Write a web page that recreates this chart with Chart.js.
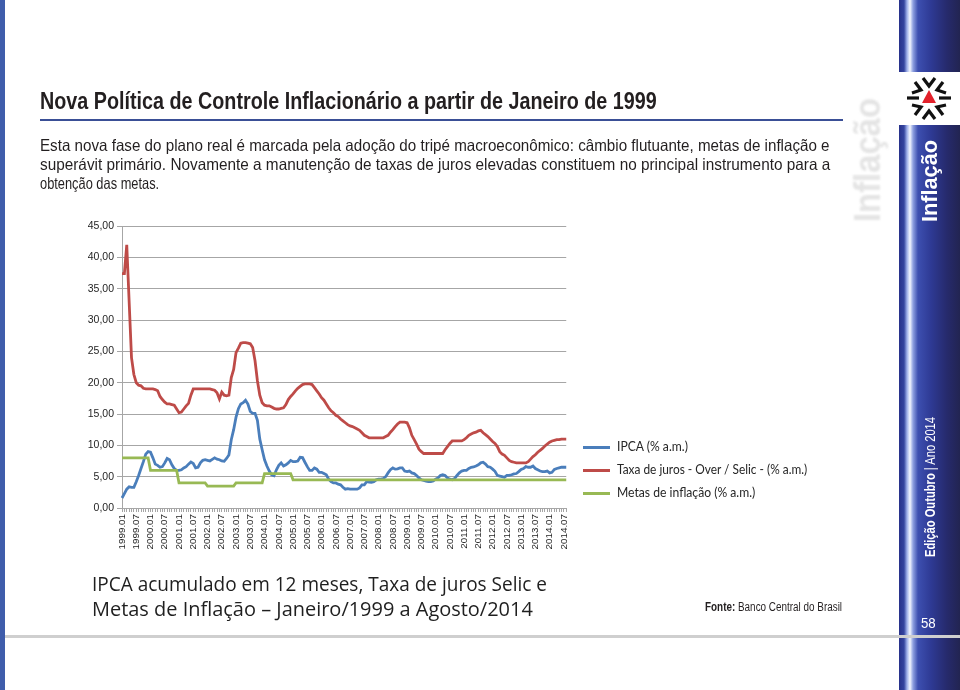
<!DOCTYPE html>
<html>
<head>
<meta charset="utf-8">
<script src="https://cdn.jsdelivr.net/npm/chart.js@4.4.1/dist/chart.umd.min.js"></script>
<style>
  html,body{margin:0;padding:0;background:#fff;}
  #page{position:relative;width:960px;height:690px;overflow:hidden;background:#fff;font-family:"Liberation Sans",Arial,sans-serif;}
  .abs{position:absolute;white-space:nowrap;}
  .fit{display:inline-block;white-space:nowrap;transform-origin:0 50%;}
  #leftbar{left:0;top:0;width:5px;height:690px;background:#3f5dab;}
  #title{left:40px;top:89px;font-size:24px;line-height:24px;font-weight:bold;color:#231f20;}
  #rule{left:40px;top:119px;width:803px;height:2px;background:#3a4f96;}
  .para{left:40px;font-size:16.5px;line-height:16px;color:#231f20;}
  #sidebar{left:899px;top:0;width:61px;height:690px;
    background:linear-gradient(to right,#27318a 0px,#34449f 5px,#9fb0ea 8px,#f4f7ff 11px,#8ea0e0 14px,#3d4fb0 19px,#2e3a94 32px,#262a6c 48px,#222451 61px);}
  #logobox{left:899px;top:72px;width:61px;height:53px;background:#fff;}
  #graybar{left:5px;top:635px;width:955px;height:3px;background:#cfcfcf;}
  .legline{position:absolute;width:27px;height:3px;}
  .legtxt{position:absolute;font-family:Lato,"Open Sans",sans-serif;font-size:12.5px;line-height:14px;color:#262626;}
  .cap{left:92px;font-family:"Open Sans",Lato,sans-serif;font-size:20px;line-height:20px;color:#1f1f1f;}
</style>
</head>
<body>
<div id="page">
  <div class="abs" id="leftbar"></div>
  <div class="abs" id="sidebar"></div>
  <div class="abs" id="graybar"></div>
  <div class="abs" id="logobox">
    <svg width="61" height="53" viewBox="0 0 61 53">
      <g stroke="#111" stroke-width="3.2" fill="none" stroke-linecap="butt">
        <polyline points="24,6 30,14 36,6"/>
        <polyline points="44,10 38,18 47,21"/>
        <polyline points="47,33 38,35 44,43"/>
        <polyline points="36,47 30,39 24,47"/>
        <polyline points="16,43 22,35 13,33"/>
        <polyline points="13,21 22,18 16,10"/>
        <line x1="8" y1="26" x2="20" y2="26"/>
        <line x1="40" y1="26" x2="52" y2="26"/>
      </g>
      <polygon points="30,18 37,31 23,31" fill="#e2202a"/>
    </svg>
  </div>
  <div class="abs" id="title"><span class="fit" id="titleT">Nova Política de Controle Inflacionário a partir de Janeiro de 1999</span></div>
  <div class="abs" id="rule"></div>
  <div class="abs para" style="top:137px"><span class="fit" id="p1">Esta nova fase do plano real é marcada pela adoção do tripé macroeconômico: câmbio flutuante, metas de inflação e</span></div>
  <div class="abs para" style="top:156px"><span class="fit" id="p2">superávit primário. Novamente a manutenção de taxas de juros elevadas constituem no principal instrumento para a</span></div>
  <div class="abs para" style="top:175px"><span class="fit" id="p3">obtenção das metas.</span></div>

  <div class="abs" style="left:868px;top:160px;width:0;height:0;">
    <div style="position:absolute;left:0;top:0;transform:translate(-50%,-50%) rotate(-90deg);font-size:36px;line-height:36px;font-weight:bold;color:#e4e4e4;filter:blur(1.3px);white-space:nowrap;"><span class="fit" id="wm" style="transform-origin:50% 50%">Inflação</span></div>
  </div>
  <div class="abs" style="left:930px;top:181px;width:0;height:0;">
    <div style="position:absolute;left:0;top:0;transform:translate(-50%,-50%) rotate(-90deg);font-size:22px;line-height:22px;font-weight:bold;color:#fff;white-space:nowrap;"><span class="fit" id="sideT" style="transform-origin:50% 50%">Inflação</span></div>
  </div>
  <div class="abs" style="left:929px;top:487px;width:0;height:0;">
    <div style="position:absolute;left:0;top:0;transform:translate(-50%,-50%) rotate(-90deg);font-size:15px;line-height:15px;color:#fff;white-space:nowrap;"><span class="fit" id="edT" style="transform-origin:50% 50%"><b>Edição Outubro</b> | Ano 2014</span></div>
  </div>
  <div class="abs" style="left:921px;top:615px;font-size:15px;line-height:15px;color:#fff;"><span class="fit" id="pg">58</span></div>

  <canvas id="chart" width="500" height="344" class="abs" style="left:80px;top:216px;"></canvas>

  <div class="legline" style="left:583px;top:446px;background:#4a7ebb;"></div>
  <div class="legtxt" style="left:617px;top:440px;"><span class="fit" id="l1">IPCA (% a.m.)</span></div>
  <div class="legline" style="left:583px;top:469px;background:#be4b48;"></div>
  <div class="legtxt" style="left:617px;top:463px;"><span class="fit" id="l2">Taxa de juros - Over / Selic - (% a.m.)</span></div>
  <div class="legline" style="left:583px;top:492px;background:#98b954;"></div>
  <div class="legtxt" style="left:617px;top:486px;"><span class="fit" id="l3">Metas de inflação (% a.m.)</span></div>

  <div class="abs cap" style="top:574px;"><span class="fit" id="c1">IPCA acumulado em 12 meses, Taxa de juros Selic e</span></div>
  <div class="abs cap" style="top:599px;"><span class="fit" id="c2">Metas de Inflação – Janeiro/1999 a Agosto/2014</span></div>
  <div class="abs" style="left:705px;top:600px;font-size:12px;line-height:14px;color:#231f20;"><span class="fit" id="fonte"><b>Fonte:</b> Banco Central do Brasil</span></div>
</div>

<script>
// ---- data (monthly, Jan/1999 .. Aug/2014) ----
const years = ["1999","2000","2001","2002","2003","2004","2005","2006","2007","2008","2009","2010","2011","2012","2013","2014"];
const months = ["01","02","03","04","05","06","07","08","09","10","11","12"];
const lastMonthCount = 8; // 2014 ends in August

const ipca = [
  1.6, 2.3, 3.0, 3.4, 3.3, 3.3, 4.2, 5.2, 6.3, 7.4, 8.6, 9.0,
  8.9, 8.0, 7.0, 6.8, 6.5, 6.6, 7.2, 7.9, 7.7, 6.9, 6.3, 6.0,
  6.0, 6.1, 6.4, 6.6, 7.0, 7.35, 7.1, 6.4, 6.5, 7.2, 7.6, 7.7,
  7.6, 7.5, 7.75, 8.0, 7.8, 7.7, 7.5, 7.45, 7.9, 8.45, 10.9, 12.5,
  14.5, 15.85, 16.6, 16.8, 17.2, 16.6, 15.4, 15.1, 15.1, 14.0, 11.0, 9.3,
  7.7, 6.7, 5.9, 5.3, 5.15, 6.1, 6.8, 7.2, 6.7, 6.9, 7.2, 7.6,
  7.4, 7.4, 7.5, 8.1, 8.05, 7.3, 6.6, 6.0, 6.0, 6.4, 6.2, 5.7,
  5.7, 5.5, 5.3, 4.6, 4.2, 4.0, 4.0, 3.8, 3.7, 3.3, 3.0, 3.1,
  3.0, 3.0, 3.0, 3.0, 3.2, 3.7, 3.7, 4.2, 4.15, 4.1, 4.2, 4.5,
  4.6, 4.6, 4.7, 5.0, 5.6, 6.1, 6.4, 6.2, 6.25, 6.4, 6.4, 5.9,
  5.8, 5.9, 5.6, 5.5, 5.2, 4.8, 4.5, 4.4, 4.3, 4.2, 4.2, 4.3,
  4.6, 4.8, 5.2, 5.3, 5.2, 4.8, 4.6, 4.5, 4.7, 5.2, 5.6, 5.9,
  6.0, 6.0, 6.3, 6.5, 6.55, 6.7, 6.9, 7.2, 7.3, 7.0, 6.6, 6.5,
  6.2, 5.85, 5.2, 5.1, 5.0, 4.9, 5.2, 5.2, 5.3, 5.45, 5.5, 5.8,
  6.15, 6.3, 6.6, 6.5, 6.5, 6.7, 6.3, 6.1, 5.9, 5.8, 5.8, 5.9,
  5.6, 5.7, 6.15, 6.3, 6.4, 6.5, 6.5, 6.5
];
const selic = [
  37.4, 37.4, 42.0, 33.0, 24.0, 21.3, 20.0, 19.6, 19.5, 19.1, 19.0, 19.0,
  19.0, 19.0, 18.9, 18.7, 17.8, 17.3, 16.9, 16.6, 16.6, 16.5, 16.4, 15.8,
  15.2, 15.3, 15.8, 16.3, 16.7, 18.0, 19.0, 19.0, 19.0, 19.0, 19.0, 19.0,
  19.0, 19.0, 18.9, 18.8, 18.4, 17.4, 18.5, 18.0, 17.9, 18.0, 20.8, 22.1,
  24.8, 25.5, 26.3, 26.4, 26.4, 26.3, 26.2, 25.6, 23.5, 20.3, 18.0, 16.8,
  16.4, 16.3, 16.3, 16.1, 15.9, 15.8, 15.8, 15.9, 16.0, 16.5, 17.3, 17.8,
  18.2, 18.7, 19.1, 19.4, 19.7, 19.8, 19.8, 19.8, 19.7, 19.2, 18.7, 18.2,
  17.6, 17.2, 16.6, 16.0, 15.5, 15.2, 14.8, 14.6, 14.2, 13.9, 13.6, 13.3,
  13.1, 13.0, 12.8, 12.6, 12.4, 12.0, 11.6, 11.4, 11.2, 11.2, 11.2, 11.2,
  11.2, 11.2, 11.2, 11.4, 11.6, 12.1, 12.5, 13.0, 13.4, 13.7, 13.7, 13.7,
  13.6, 12.8, 11.6, 10.9, 10.2, 9.4, 9.0, 8.7, 8.7, 8.7, 8.7, 8.7,
  8.7, 8.7, 8.7, 8.7, 9.3, 9.8, 10.3, 10.7, 10.7, 10.7, 10.7, 10.7,
  10.9, 11.2, 11.6, 11.8, 12.0, 12.1, 12.3, 12.4, 12.0, 11.7, 11.4, 11.0,
  10.6, 10.3, 9.8, 9.0, 8.6, 8.4, 8.0, 7.6, 7.4, 7.3, 7.2, 7.2,
  7.2, 7.2, 7.2, 7.4, 7.8, 8.2, 8.5, 8.9, 9.2, 9.5, 9.9, 10.2,
  10.5, 10.7, 10.8, 10.9, 10.9, 11.0, 11.0, 11.0
];
const metas = [
  8, 8, 8, 8, 8, 8, 8, 8, 8, 8, 8, 8,
  6, 6, 6, 6, 6, 6, 6, 6, 6, 6, 6, 6,
  4, 4, 4, 4, 4, 4, 4, 4, 4, 4, 4, 4,
  3.5, 3.5, 3.5, 3.5, 3.5, 3.5, 3.5, 3.5, 3.5, 3.5, 3.5, 3.5,
  4, 4, 4, 4, 4, 4, 4, 4, 4, 4, 4, 4,
  5.5, 5.5, 5.5, 5.5, 5.5, 5.5, 5.5, 5.5, 5.5, 5.5, 5.5, 5.5,
  4.5, 4.5, 4.5, 4.5, 4.5, 4.5, 4.5, 4.5, 4.5, 4.5, 4.5, 4.5,
  4.5, 4.5, 4.5, 4.5, 4.5, 4.5, 4.5, 4.5, 4.5, 4.5, 4.5, 4.5,
  4.5, 4.5, 4.5, 4.5, 4.5, 4.5, 4.5, 4.5, 4.5, 4.5, 4.5, 4.5,
  4.5, 4.5, 4.5, 4.5, 4.5, 4.5, 4.5, 4.5, 4.5, 4.5, 4.5, 4.5,
  4.5, 4.5, 4.5, 4.5, 4.5, 4.5, 4.5, 4.5, 4.5, 4.5, 4.5, 4.5,
  4.5, 4.5, 4.5, 4.5, 4.5, 4.5, 4.5, 4.5, 4.5, 4.5, 4.5, 4.5,
  4.5, 4.5, 4.5, 4.5, 4.5, 4.5, 4.5, 4.5, 4.5, 4.5, 4.5, 4.5,
  4.5, 4.5, 4.5, 4.5, 4.5, 4.5, 4.5, 4.5, 4.5, 4.5, 4.5, 4.5,
  4.5, 4.5, 4.5, 4.5, 4.5, 4.5, 4.5, 4.5, 4.5, 4.5, 4.5, 4.5,
  4.5, 4.5, 4.5, 4.5, 4.5, 4.5, 4.5, 4.5
];
const seriesNames = ["IPCA (% a.m.)", "Taxa de juros - Over / Selic - (% a.m.)", "Metas de inflação (% a.m.)"];
const yTicks = [0, 5, 10, 15, 20, 25, 30, 35, 40, 45];

// ---- labels ----
const labels = [];
years.forEach((y, yi) => {
  const n = (yi === years.length - 1) ? lastMonthCount : 12;
  for (let m = 0; m < n; m++) labels.push(y + "." + months[m]);
});

// ---- text fitting ----
function fit(id, w) {
  const el = document.getElementById(id);
  const cw = el.offsetWidth;
  if (cw > 0) el.style.transform = "scaleX(" + (w / cw) + ")";
}
fit("titleT", 617);
fit("p1", 790);
fit("p2", 790);
fit("p3", 119);
fit("wm", 124);
fit("sideT", 82);
fit("edT", 140);
fit("pg", 15);
fit("l1", 71);
fit("l2", 190);
fit("l3", 138);
fit("c1", 455);
fit("c2", 441);
fit("fonte", 137);

// ---- chart ----
const axisColor = "#a6a6a6";
new Chart(document.getElementById("chart"), {
  type: "line",
  data: {
    labels: labels,
    datasets: [
      { label: seriesNames[0], data: ipca, borderColor: "#4a7ebb", backgroundColor: "#4a7ebb", borderWidth: 2.8, pointRadius: 0, tension: 0, order: 1 },
      { label: seriesNames[1], data: selic, borderColor: "#be4b48", backgroundColor: "#be4b48", borderWidth: 2.8, pointRadius: 0, tension: 0, order: 2 },
      { label: seriesNames[2], data: metas, borderColor: "#98b954", backgroundColor: "#98b954", borderWidth: 2.8, pointRadius: 0, tension: 0, order: 0 }
    ]
  },
  options: {
    responsive: false,
    animation: false,
    devicePixelRatio: 1,
    layout: { padding: { left: 0, right: 13, top: 10, bottom: 0 } },
    plugins: { legend: { display: false }, tooltip: { enabled: false } },
    scales: {
      x: {
        type: "category",
        offset: false,
        grid: { display: true, drawOnChartArea: false, drawTicks: true, tickLength: 4, color: axisColor },
        border: { display: true, color: axisColor, width: 1 },
        ticks: {
          autoSkip: false, maxRotation: 90, minRotation: 90, padding: 2,
          color: "#1f1f1f", font: { family: "Liberation Sans", size: 9.8 },
          callback: function (v, i) { return (i % 6 === 0) ? labels[i] : ""; }
        },
        afterFit: function (s) { s.height = 52; }
      },
      y: {
        min: 0, max: 45,
        afterBuildTicks: function (s) { s.ticks = yTicks.map(v => ({ value: v })); },
        grid: { color: axisColor, lineWidth: 1, tickLength: 5, drawTicks: true },
        border: { display: true, color: axisColor, width: 1 },
        ticks: {
          padding: 3, color: "#1f1f1f", font: { family: "Liberation Sans", size: 10.5 },
          callback: function (v) { return v.toFixed(2).replace(".", ","); }
        },
        afterFit: function (s) { s.width = 42; }
      }
    }
  }
});
</script>
</body>
</html>
